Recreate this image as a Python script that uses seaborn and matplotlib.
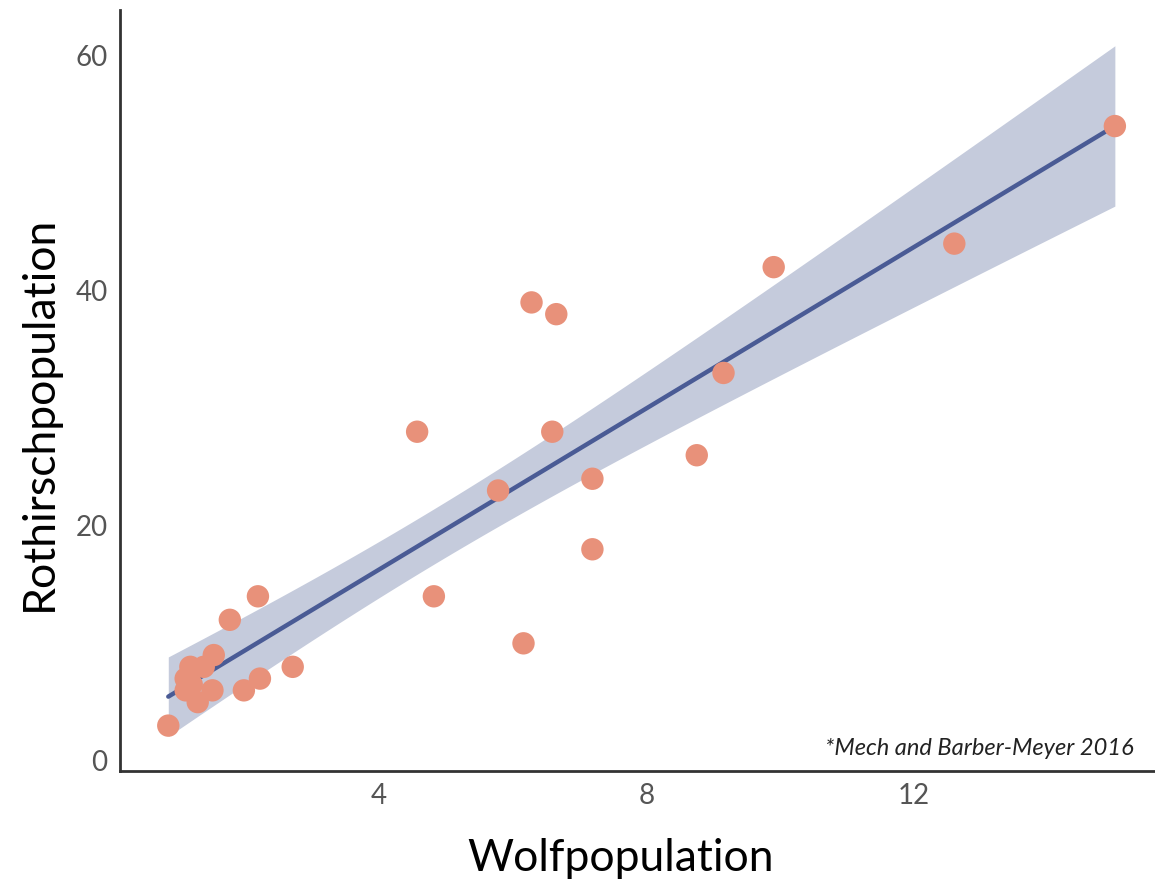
# wolf vs red deer population scatter with linear fit -> out.png

import matplotlib.pyplot as plt
import numpy as np
import pandas as pd
import seaborn as sns

# values
wolves = [0.85, 15.0, 12.6, 9.9, 6.28, 6.65, 9.15, 4.57, 6.59, 8.75, 7.19, 5.78,
          7.19, 4.82, 6.16, 2.19, 1.77, 1.53, 2.71, 2.22, 1.98, 1.51, 1.29,
          1.18, 1.38, 1.11, 1.11, 1.2]
deer = [3, 54, 44, 42, 39, 38, 33, 28, 28, 26, 24, 23,
        18, 14, 10, 14, 12, 9, 8, 7, 6, 6, 5,
        8, 8, 7, 6, 6.5]

x_ticks = [4, 8, 12]
y_ticks = [0, 20, 40, 60]
source_note = "*Mech and Barber-Meyer 2016"

POINT_COLOR = "#E8917A"
LINE_COLOR = "#4A5B95"
BAND_COLOR = "#C5CBDC"
T_975 = 2.056  # t quantile, df = n - 2 = 26


def lm_band(x, y, grid):
    # classic lm confidence band (like ggplot's geom_smooth se=TRUE)
    x = np.asarray(x, float)
    y = np.asarray(y, float)
    slope, icpt = np.polyfit(x, y, 1)
    resid = y - (slope * x + icpt)
    s = np.sqrt((resid ** 2).sum() / (len(x) - 2))
    sxx = ((x - x.mean()) ** 2).sum()
    fit = slope * grid + icpt
    half = T_975 * s * np.sqrt(1 / len(x) + (grid - x.mean()) ** 2 / sxx)
    return fit - half, fit + half


def main():
    df = pd.DataFrame({"wolf": wolves, "deer": deer})

    sns.set_style("white")
    plt.rcParams["font.family"] = ["Lato", "DejaVu Sans"]

    fig = plt.figure(figsize=(11.55, 8.81), dpi=100)
    ax = fig.add_axes([0.104, 0.125, 0.896, 0.864])

    grid = np.linspace(min(wolves), max(wolves), 200)
    lo, hi = lm_band(wolves, deer, grid)
    ax.fill_between(grid, lo, hi, color=BAND_COLOR, linewidth=0, zorder=2)

    sns.regplot(data=df, x="wolf", y="deer", ax=ax, scatter=False, ci=None,
                color=LINE_COLOR, line_kws={"linewidth": 3.2, "zorder": 3})

    sns.scatterplot(data=df, x="wolf", y="deer", ax=ax, color=POINT_COLOR,
                    s=260, edgecolor="none", zorder=4)

    ax.set_xlim(0.13, 15.6)
    ax.set_ylim(-0.85, 63.9)
    ax.set_xticks(x_ticks)
    ax.set_yticks(y_ticks)
    ax.tick_params(axis="both", length=5, width=1.2, color="#555555",
                   labelsize=20, labelcolor="#555555", pad=4)

    for side in ["top", "right"]:
        ax.spines[side].set_visible(False)
    for side in ["left", "bottom"]:
        ax.spines[side].set_color("#333333")
        ax.spines[side].set_linewidth(2)

    ax.set_xlabel("Wolfpopulation", fontsize=32, color="black")
    ax.set_ylabel("Rothirschpopulation", fontsize=32, color="black")
    ax.xaxis.set_label_coords(0.484, -0.088)
    ax.yaxis.set_label_coords(-0.058, 0.47)

    ax.text(0.979, 0.015, source_note, transform=ax.transAxes, ha="right",
            va="bottom", fontsize=17, style="italic", color="#222222")

    fig.savefig("out.png", dpi=100)
    plt.close(fig)


if __name__ == "__main__":
    main()
